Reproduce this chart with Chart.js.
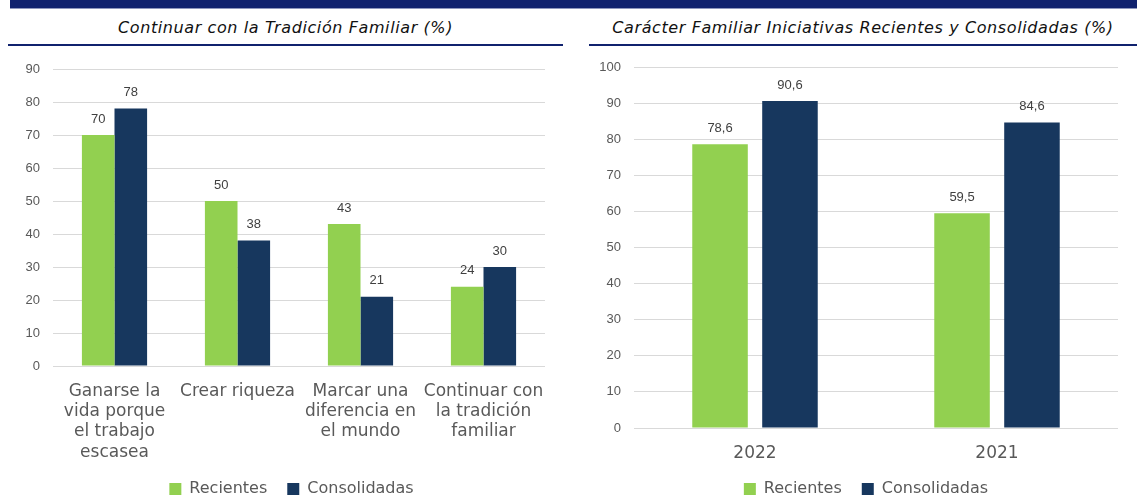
<!DOCTYPE html>
<html>
<head>
<meta charset="utf-8">
<script src="https://cdn.jsdelivr.net/npm/chart.js@4"></script>
<style>
  body { margin: 0; width: 1137px; height: 495px; background: #fff; position: relative; overflow: hidden; font-family: "DejaVu Sans", Verdana, sans-serif; }
  .topbar { position: absolute; left: 10px; top: 0; width: 1127px; height: 8px; background: #10226e; border-bottom: 1px solid #8e97bd; }
  .title { position: absolute; top: 18px; font-style: italic; font-size: 16px; letter-spacing: 0.6px; color: #111; text-align: center; white-space: nowrap; }
  .rule { position: absolute; top: 44px; height: 2px; background: #10226e; }
  .box { position: absolute; top: 55px; height: 454px; }
</style>
</head>
<body>
<div class="topbar"></div>
<div class="title" style="left:8px;width:555px;">Continuar con la Tradición Familiar (%)</div>
<div class="title" style="left:589px;width:548px;">Carácter Familiar Iniciativas Recientes y Consolidadas (%)</div>
<div class="rule" style="left:8px;width:555px;"></div>
<div class="rule" style="left:589px;width:548px;"></div>
<div class="box" style="left:0;width:565px;"><canvas id="motivos"></canvas></div>
<div class="box" style="left:570px;width:567px;"><canvas id="caracter"></canvas></div>
<script>
// Gráfico izquierdo
let motivos = [["Ganarse la", "vida porque", "el trabajo", "escasea"], "Crear riqueza", ["Marcar una", "diferencia en", "el mundo"], ["Continuar con", "la tradición", "familiar"]];
let motivosRecientes = [70, 50, 43, 24];
let motivosConsolidadas = [78, 38, 21, 30];

// Gráfico derecho
let years = ["2022", "2021"];
let caracterRecientes = [78.6, 59.5];
let caracterConsolidadas = [90.6, 84.6];

let seriesNames = ["Recientes", "Consolidadas"];
let barColors = ["#92d050", "#17375e"];

let valueLabels = {
    id: "valueLabels",
    afterLayout(chart, args, opts) {
        // desplazar la leyenda un poco a la derecha
        chart.legend.left += opts.legendShift;
        chart.legend.right += opts.legendShift;
    },
    afterDatasetsDraw(chart, args, opts) {
        let ctx = chart.ctx;
        ctx.save();
        ctx.font = "13px 'Liberation Sans', Arial, sans-serif";
        ctx.fillStyle = "#404040";
        ctx.textAlign = "center";
        ctx.textBaseline = "middle";
        chart.data.datasets.forEach(function(ds, i){
            chart.getDatasetMeta(i).data.forEach(function(bar, j){
                let v = ds.data[j];
                let txt = opts.decimals ? v.toFixed(1).replace(".", ",") : String(v);
                ctx.fillText(txt, bar.x, bar.y - 16);
            });
        });
        ctx.restore();
    }
};

function makeChart(id, labels, rec, cons, maxY, yWidth, xHeight, pad, catPct, barPct, decimals, shift) {
    return new Chart(id, {
        type: "bar",
        data: {
            labels: labels,
            datasets: [
                { label: seriesNames[0], data: rec, backgroundColor: barColors[0], categoryPercentage: catPct, barPercentage: barPct },
                { label: seriesNames[1], data: cons, backgroundColor: barColors[1], categoryPercentage: catPct, barPercentage: barPct }
            ]
        },
        options: {
            responsive: true,
            maintainAspectRatio: false,
            animation: false,
            layout: { padding: pad },
            plugins: {
                valueLabels: { decimals: decimals, legendShift: shift },
                tooltip: { enabled: false },
                legend: {
                    position: "bottom",
                    labels: {
                        boxWidth: 12, boxHeight: 12, padding: 20,
                        color: "#595959",
                        font: { family: "'DejaVu Sans', Verdana, sans-serif", size: 16 }
                    }
                }
            },
            scales: {
                x: {
                    grid: { display: false },
                    border: { display: false },
                    ticks: {
                        color: "#595959", padding: 7, maxRotation: 0, autoSkip: false,
                        font: { family: "'DejaVu Sans', Verdana, sans-serif", size: 17, lineHeight: 1.2 }
                    },
                    afterFit: function(s){ s.height = xHeight; }
                },
                y: {
                    min: 0, max: maxY,
                    grid: { color: "#d9d9d9", drawTicks: false },
                    border: { display: false },
                    ticks: {
                        stepSize: 10, padding: 13, color: "#595959",
                        font: { family: "'Liberation Sans', Arial, sans-serif", size: 13 }
                    },
                    afterFit: function(s){ s.width = yWidth; s.paddingTop = 0; s.paddingBottom = 0; }
                }
            }
        },
        plugins: [valueLabels]
    });
}

makeChart("motivos", motivos, motivosRecientes, motivosConsolidadas, 90, 53, 95, { top: 14, right: 20, bottom: 2, left: 0 }, 0.53, 1, false, 19);
makeChart("caracter", years, caracterRecientes, caracterConsolidadas, 100, 64, 33, { top: 12, right: 19, bottom: 2, left: 0 }, 0.578, 0.794, true, 22);
</script>
</body>
</html>
